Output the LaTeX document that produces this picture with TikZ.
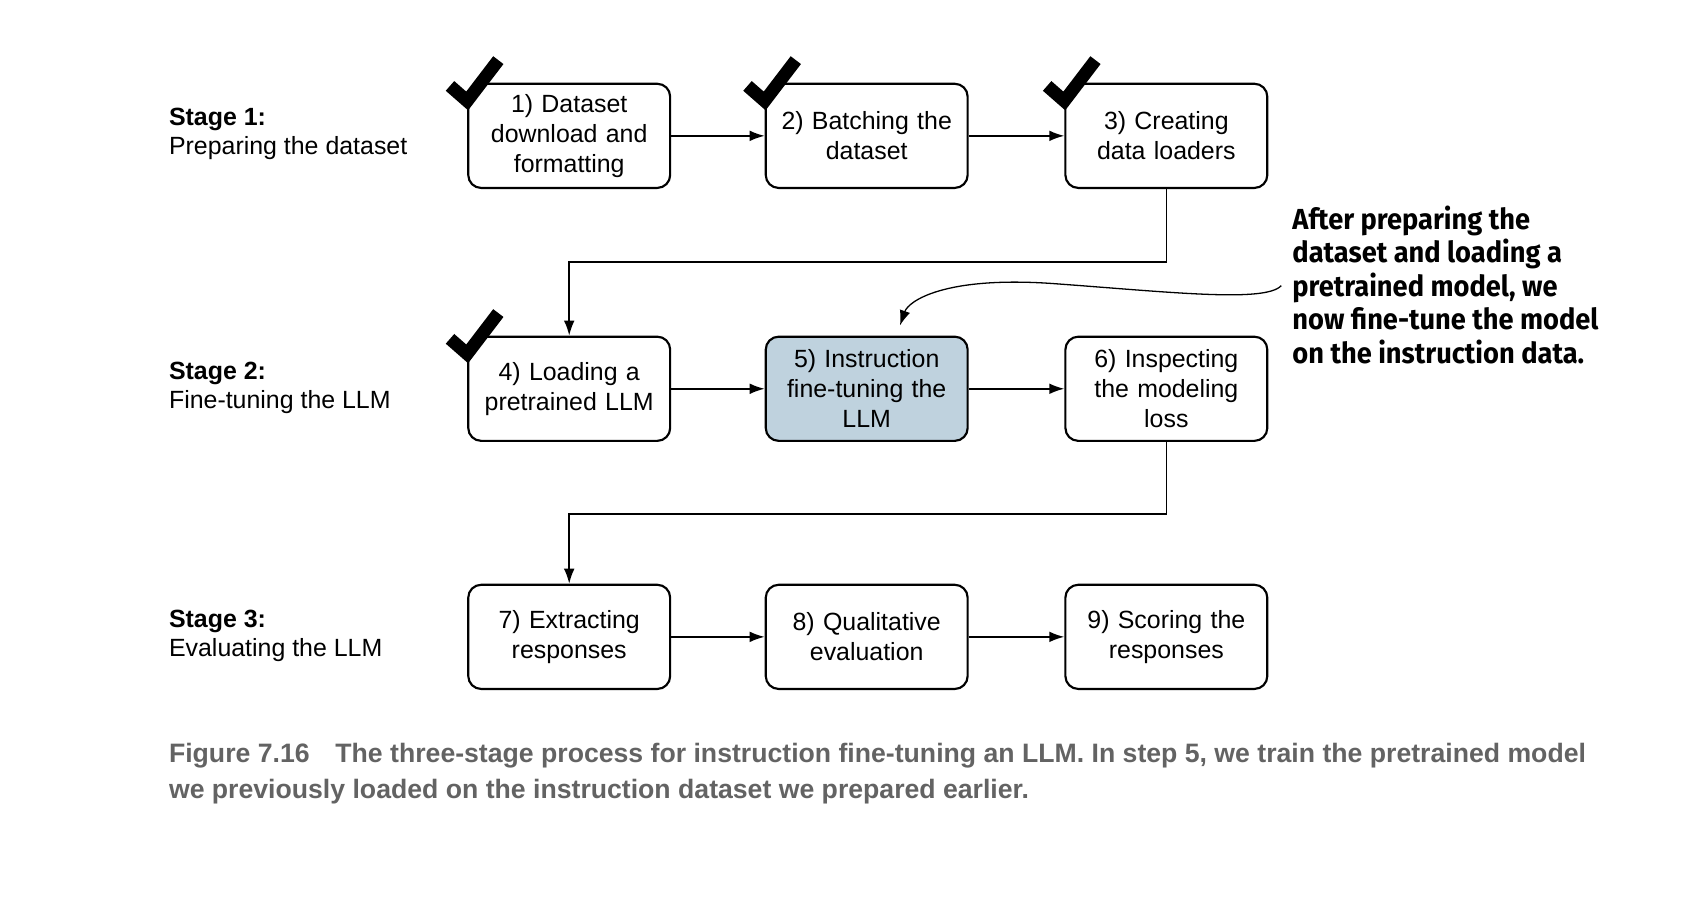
\documentclass[tikz,border=0pt]{standalone}
\usepackage{fontspec}
\setmainfont{Liberation Sans}
\newfontfamily\annfont[FakeStretch=0.94]{Fira Sans}
\newfontfamily\capfont[BoldFont={Liberation Sans Bold},FakeStretch=1.0]{Liberation Sans}
\usetikzlibrary{arrows.meta,calc}
\definecolor{boxblue}{HTML}{BFD2DE}
\definecolor{capgray}{HTML}{636363}
\begin{document}
\begin{tikzpicture}[x=0.5pt,y=-0.5pt,
  stepbox/.style={draw=black,line width=1pt,rounded corners=6pt,minimum width=94pt,minimum height=48.5pt,
    align=center,text width=90pt,inner sep=0pt,font=\fontsize{11.6}{14}\selectfont},
  arr/.style={line width=0.75pt,-{Latex[length=7pt,width=5pt]}},
  stagelbl/.style={anchor=west,align=left,inner sep=0pt,font=\fontsize{11.6}{13.6}\selectfont},
  chk/.style={line width=6pt,line join=miter}]
\useasboundingbox (0,0) rectangle (1568,849);
% stage labels
\node[stagelbl] (s1) at (157,125) {\textbf{Stage 1:}\\Preparing the dataset};
\node[stagelbl] (s2) at (157,361) {\textbf{Stage 2:}\\Fine-tuning the LLM};
\node[stagelbl] (s3) at (157,592) {\textbf{Stage 3:}\\Evaluating the LLM};
% boxes
\node[stepbox] (b1) at (530,126.5) {1) Dataset\\download and\\formatting};
\node[stepbox] (b2) at (807,126.5) {2) Batching the\\dataset};
\node[stepbox] (b3) at (1086,126.5) {3) Creating\\data loaders};
\node[stepbox] (b4) at (530,362) {4) Loading a\\pretrained LLM};
\node[stepbox,fill=boxblue] (b5) at (807,362) {5) Instruction\\fine-tuning the\\LLM};
\node[stepbox] (b6) at (1086,362) {6) Inspecting\\the modeling\\loss};
\node[stepbox] (b7) at (530,593) {7) Extracting\\responses};
\node[stepbox] (b8) at (807,593) {8) Qualitative\\evaluation};
\node[stepbox] (b9) at (1086,593) {9) Scoring the\\responses};
% connectors
\draw[arr] (b1) -- (b2);
\draw[arr] (b2) -- (b3);
\draw[arr] (b4) -- (b5);
\draw[arr] (b5) -- (b6);
\draw[arr] (b7) -- (b8);
\draw[arr] (b8) -- (b9);
\draw[arr] (b3.south) -- ++(0,68) -| (b4.north);
\draw[arr] (b6.south) -- ++(0,67) -| (b7.north);
% check marks
\foreach \b in {b1,b2,b3,b4}{
  \draw[chk] ($(\b.north west)+(-16,3)$) -- ($(\b.north west)+(0,17)$) -- ($(\b.north west)+(29,-21)$);
}
% annotation
\node[anchor=north west,align=left,inner sep=0pt,
  font=\annfont\bfseries\fontsize{13.5}{15.6}\selectfont] (ann) at (1203,191)
  {After preparing the\\dataset and loading a\\pretrained model, we\\now fine-tune the model\\on the instruction data.};
\coordinate (annstart) at (1193,266);
\coordinate (annend) at (838,303);
\draw[line width=0.6pt,-{Latex[length=7pt,width=5pt]}] (annstart) .. controls (1178,282) and (1090,272) .. (980,264) .. controls (880,257) and (846,280) .. (annend);
% caption
\node[anchor=north west,align=left,inner sep=0pt,text=capgray,
  font=\capfont\bfseries\fontsize{12.4}{16.6}\selectfont] (cap) at (157,692)
  {Figure 7.16\hspace{12pt}The three-stage process for instruction fine-tuning an LLM. In step 5, we train the pretrained model\\we previously loaded on the instruction dataset we prepared earlier.};
\end{tikzpicture}
\end{document}
